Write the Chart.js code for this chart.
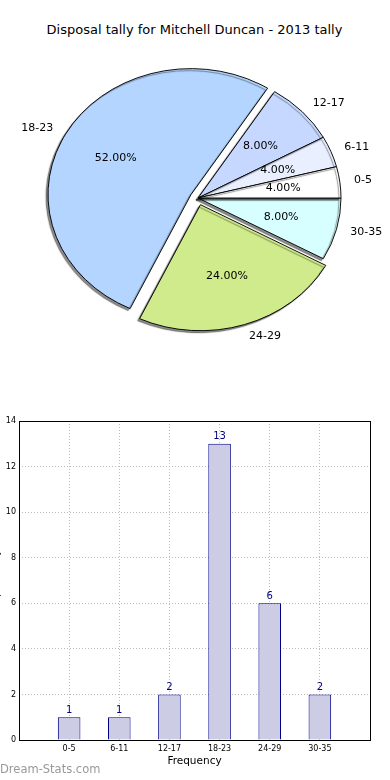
<!DOCTYPE html>
<html>
<head>
<meta charset="utf-8">
<script src="https://cdn.jsdelivr.net/npm/chart.js@4.4.1/dist/chart.umd.min.js"></script>
<style>
  html,body{margin:0;padding:0;background:#fff;width:390px;height:780px;overflow:hidden;position:relative;font-family:"DejaVu Sans",sans-serif;}
  #pie{position:absolute;left:3px;top:0;}
  #bar{position:absolute;left:-9px;top:400px;}
  #titulo{position:absolute;left:0;width:389px;top:21px;text-align:center;font-size:13px;line-height:18px;color:#000;}
  #marca{position:absolute;left:0;top:762px;color:#999;font-size:11.5px;}
</style>
</head>
<body>
<div id="titulo"></div>
<canvas id="pie" width="390" height="380"></canvas>
<canvas id="bar" width="399" height="380"></canvas>
<div id="marca">Dream-Stats.com</div>

<script>
/* datos */
const tramos   = ['0-5','6-11','12-17','18-23','24-29','30-35'];
const partidos = [1, 1, 2, 13, 6, 2];
const coloresPie = ['#ffffff','#e9efff','#c6d8ff','#b3d5ff','#d0eb8b','#d8ffff'];
const separa   = [0, 0, 0, 8, 8, 0];          // explode (px)
const titulo   = 'Disposal tally for Mitchell Duncan - 2013 tally';

const FUENTE = '"DejaVu Sans"';
const RY = 126/143;                            // la tarta sale aplastada (ejes sin aspect equal)
const total = partidos.reduce((a,b)=>a+b,0);
document.getElementById('titulo').textContent = titulo;

/* la tarta va al revés: chart.js gira en sentido horario */
const rev = a => a.slice().reverse();
const tramosR = rev(tramos), partidosR = rev(partidos), coloresR = rev(coloresPie), separaR = rev(separa);

/*** plugin tarta: elipse + sombra + separación + etiquetas ***/
const pieForma = {
  id:'pieForma',
  afterDatasetUpdate(chart,{meta}){
    meta.data.forEach((arc,i)=>{
      if(arc._sep) return;
      arc._sep = true;
      const dibuja = arc.draw;
      arc.draw = function(ctx){
        const m=(this.startAngle+this.endAngle)/2, d=separaR[i];
        ctx.save(); ctx.translate(Math.cos(m)*d, Math.sin(m)*d);
        dibuja.call(this,ctx);
        ctx.restore();
      };
    });
  },
  beforeDatasetsDraw(chart){
    const ctx=chart.ctx, a=chart.getDatasetMeta(0).data[0];
    ctx.save();
    ctx.translate(0,a.y); ctx.scale(1,RY); ctx.translate(0,-a.y);
    ctx.shadowColor='rgba(0,0,0,0.45)'; ctx.shadowOffsetX=-2; ctx.shadowOffsetY=2; ctx.shadowBlur=1;
  },
  afterDatasetsDraw(chart){
    const ctx=chart.ctx;
    ctx.restore();
    ctx.save();
    ctx.font='11px '+FUENTE; ctx.fillStyle='#000'; ctx.textBaseline='middle';
    chart.getDatasetMeta(0).data.forEach((arc,i)=>{
      const p=arc.getProps(['x','y','startAngle','endAngle','outerRadius'],true);
      const m=(p.startAngle+p.endAngle)/2, c=Math.cos(m), s=Math.sin(m);
      const cx=p.x+c*separaR[i], cy=p.y+s*separaR[i];
      const pos=k=>[cx+c*p.outerRadius*k, p.y+(cy+s*p.outerRadius*k-p.y)*RY];
      let [x,y]=pos(1.1);
      ctx.textAlign = c<0 ? 'right' : 'left';
      ctx.fillText(tramosR[i],x,y);
      [x,y]=pos(0.6);
      ctx.textAlign='center';
      ctx.fillText((partidosR[i]/total*100).toFixed(2)+'%',x,y);
    });
    ctx.restore();
  }
};

new Chart(document.getElementById('pie'),{
  type:'pie',
  data:{labels:tramosR, datasets:[{data:partidosR, backgroundColor:coloresR, borderColor:'#000', borderWidth:1, clip:false}]},
  options:{
    responsive:false, animation:false, events:[],
    rotation:90, radius:143,
    layout:{padding:{top:48, bottom:32}},
    plugins:{legend:{display:false}, tooltip:{enabled:false}}
  },
  plugins:[pieForma]
});

/*** barras ***/
const marco = {
  id:'marco',
  afterDraw(chart){
    const {ctx, chartArea:a}=chart;
    ctx.save();
    ctx.strokeStyle='#000'; ctx.lineWidth=1;
    ctx.strokeRect(Math.round(a.left)+0.5, Math.round(a.top)+0.5, Math.round(a.right-a.left), Math.round(a.bottom-a.top));
    // valores encima de cada barra
    ctx.font='10px '+FUENTE; ctx.fillStyle='#000080'; ctx.textAlign='center'; ctx.textBaseline='alphabetic';
    chart.getDatasetMeta(0).data.forEach((b,i)=>ctx.fillText(partidos[i], b.x, b.y-4.5));
    ctx.restore();
  }
};

new Chart(document.getElementById('bar'),{
  type:'bar',
  data:{datasets:[{
    data:tramos.map((t,i)=>({x:i, y:partidos[i]})),
    backgroundColor:'#ccccE5', borderColor:'#000088', borderWidth:1,
    barPercentage:0.45, categoryPercentage:1
  }]},
  options:{
    responsive:false, animation:false, events:[],
    layout:{padding:{top:21, bottom:12, left:0, right:20}},
    plugins:{legend:{display:false}, tooltip:{enabled:false}},
    scales:{
      x:{
        type:'linear', min:-1, max:6, z:1, offset:false,
        afterBuildTicks:s=>{ s.ticks = tramos.map((t,i)=>({value:i})); },
        afterFit:s=>{ s.height=28; },
        ticks:{callback:v=>tramos[v], color:'#000', font:{size:8, family:FUENTE}, padding:4, maxRotation:0, autoSkip:false},
        grid:{color:'#bbbbbb', drawTicks:false, offset:false},
        border:{display:false, dash:[1,2]},
        title:{display:true, text:'Frequency', color:'#000', font:{size:10.5, family:FUENTE}, padding:{top:0,bottom:0}}
      },
      y:{
        min:0, max:14, z:1,
        afterFit:s=>{ s.width=28; },
        ticks:{stepSize:2, color:'#000', font:{size:8, family:FUENTE}, padding:3},
        grid:{color:'#bbbbbb', drawTicks:false},
        border:{display:false, dash:[1,2]},
        title:{display:true, text:'Disposal Tally', color:'#000', font:{size:9, family:FUENTE}, padding:0}
      }
    }
  },
  plugins:[marco]
});
</script>
</body>
</html>
